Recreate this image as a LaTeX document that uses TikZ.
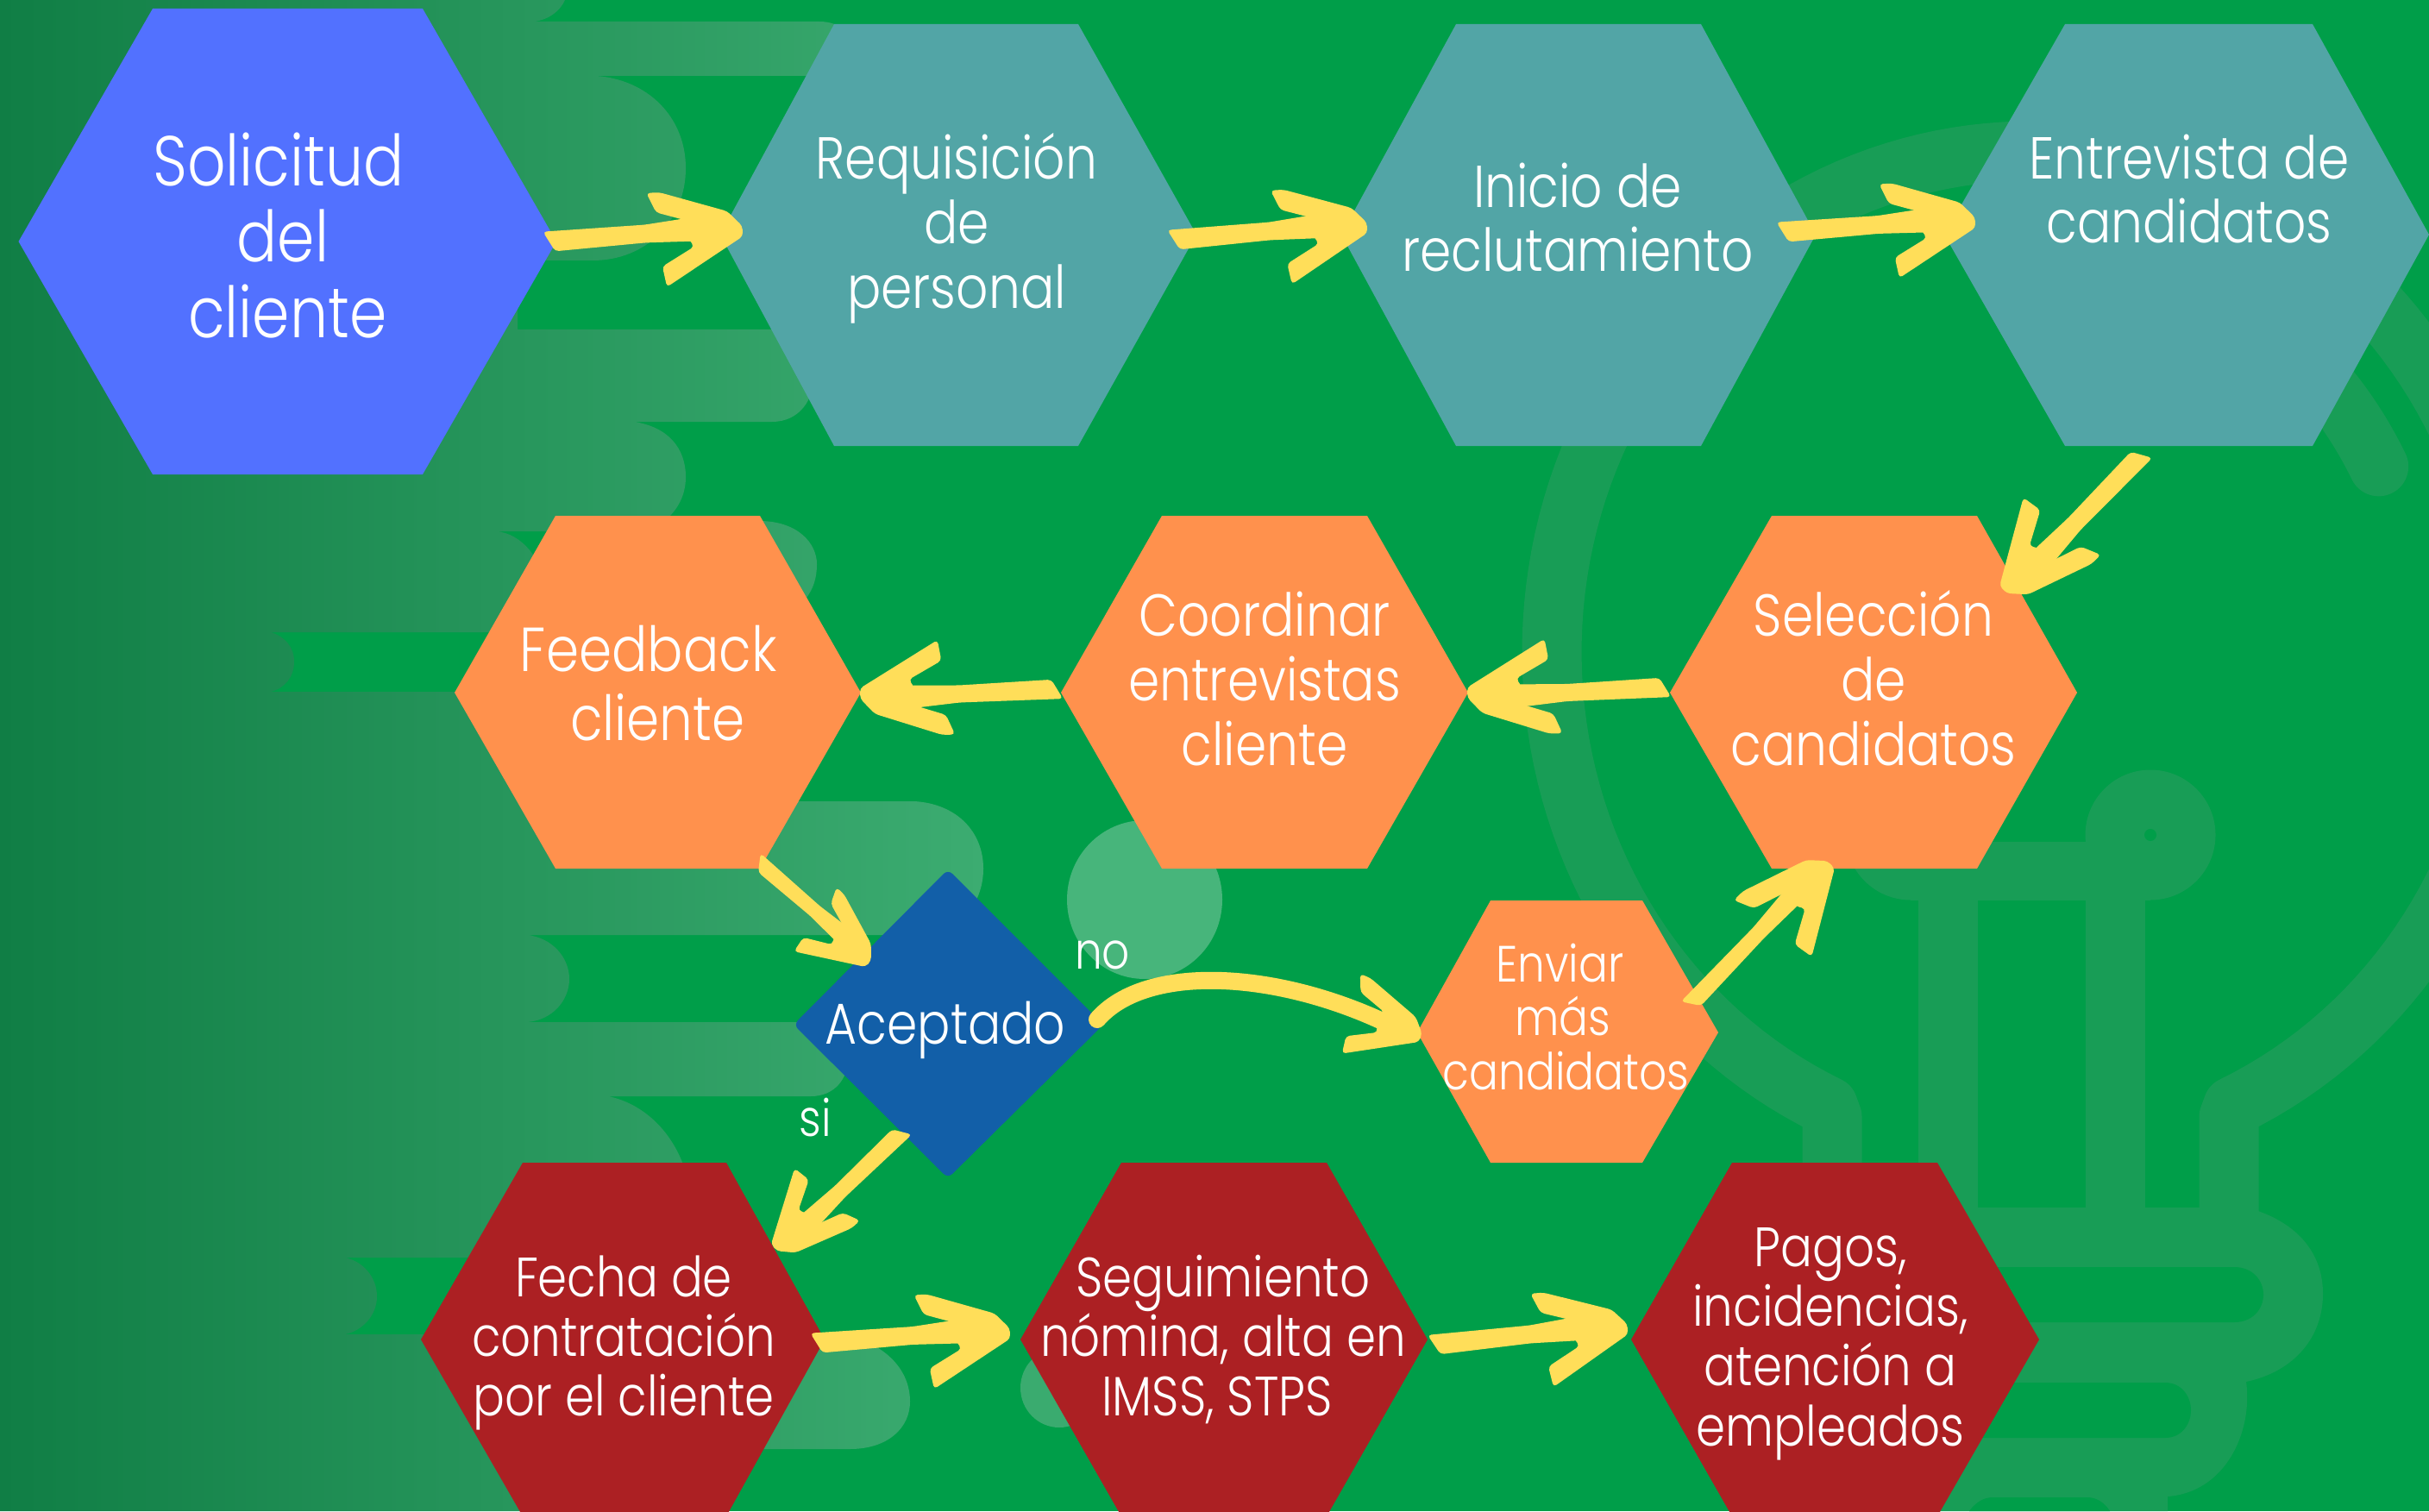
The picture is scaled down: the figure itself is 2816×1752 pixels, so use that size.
\documentclass[tikz,border=0pt]{standalone}
\usepackage{fontspec}
\setmainfont{Poppins}[UprightFont=* Light,FakeStretch=0.85]
\usetikzlibrary{calc}
\definecolor{bgg}{HTML}{009E49}
\definecolor{bulbc}{HTML}{189D56}
\definecolor{barl}{HTML}{107E45}
\definecolor{barr}{HTML}{3CAC71}
\definecolor{blobA}{HTML}{47B57B}
\definecolor{blobB}{HTML}{3AAB6F}
\definecolor{hblue}{HTML}{5271FF}
\definecolor{hteal}{HTML}{52A5A6}
\definecolor{horange}{HTML}{FF914D}
\definecolor{hred}{HTML}{AC2023}
\definecolor{dblue}{HTML}{125FA8}
\definecolor{yel}{HTML}{FFDE59}
\newcommand\hex[8]{\fill[#1] (#2,#7) -- (#3,#6) -- (#4,#6) -- (#5,#7) -- (#4,#8) -- (#3,#8) -- cycle;}
\newcommand\hframe[2]{%
 \pgfpointdiff{\pgfpointanchor{#1}{center}}{\pgfpointanchor{#2}{center}}%
 \pgfgetlastxy\hdx\hdy
 \pgfmathsetmacro\hLen{veclen(\hdx,\hdy)}%
 \pgfmathsetmacro\hA{\hdx/\hLen}%
 \pgfmathsetmacro\hB{\hdy/\hLen}%
 \pgfmathsetmacro\hL{\hLen/0.28453}%
}
\newcommand\hhead[3]{% from, tip, head scale
 \hframe{#1}{#2}%
 \begin{scope}[cm={\hA,\hB,-\hB,\hA,(#1)}]
 \fill[yel,rounded corners=1.2pt]
  ({\hL-58*#3},{-14*#3}) -- ({\hL-98*#3},{-27*#3}) -- ({\hL-108*#3},{-50*#3}) --
  ({\hL-93*#3},{-50*#3}) -- ({\hL-15.6*#3},{-24*#3}) -- ({\hL+1*#3},{-6*#3}) --
  ({\hL+1*#3},{6*#3}) -- ({\hL-90*#3},{60*#3}) -- ({\hL-94*#3},{36*#3}) --
  ({\hL-56*#3},{15*#3}) -- ({\hL-62*#3},{5.4*#3}) -- cycle;
 \end{scope}}
\newcommand\harrow[4]{% start, tip, head scale, shaft scale
 \hhead{#1}{#2}{#3}%
 \begin{scope}[cm={\hA,\hB,-\hB,\hA,(#1)}]
 \fill[yel,rounded corners=1.2pt]
  (-6,{-9*#4}) -- ({\hL/2},{-8*#4-3}) -- ({\hL-50*#3},{-5.5*#3-11*#4}) --
  ({\hL-50*#3},{-5.5*#3+11*#4}) -- ({\hL/2},{8*#4-3}) -- (7,{9*#4}) -- cycle;
 \end{scope}}
\tikzset{
 lbl/.style={text=white,align=center,inner sep=0pt},
 bigt/.style={lbl,font=\fontsize{23.3}{25}\selectfont},
 midt/.style={lbl,font=\fontsize{19.5}{21.3}\selectfont},
 feedt/.style={lbl,font=\fontsize{20.5}{22.8}\selectfont},
 redt/.style={lbl,font=\fontsize{18.3}{19.7}\selectfont},
 envt/.style={lbl,font=\fontsize{16.8}{17.9}\selectfont},
 bulbline/.style={bulbc,line width=0.69cm,line join=round},
}
\begin{document}
\begin{tikzpicture}[x=0.01cm,y=-0.01cm]
\useasboundingbox (0,0) rectangle (2816,1752);
\clip (0,0) rectangle (2816,1752);
\fill[bgg] (0,0) rectangle (2816,1752);
% bulb
\draw[bulbline] (2124,1410) -- (2124,1295) -- plot[domain=115:425,samples=160] ({2354+555*cos(\x)},{756+581*sin(\x)}) -- (2584,1295) -- (2584,1410);
\draw[bulbline,line cap=round] plot[domain=290:333,samples=30] ({2354+453*cos(\x)},{756+474*sin(\x)});
\draw[bulbline] (2258,1000) -- (2258,1410);
\draw[bulbline] (2452,1000) -- (2452,1410);
\fill[bulbc] (2215,968) ellipse (75.5 and 75.5);
\fill[bulbc] (2493,968) ellipse (75.5 and 75.5);
\fill[bgg] (2493,968) ellipse (7 and 7);
\fill[bulbc] (2215,976) rectangle (2493,1044);
\fill[bulbc] (2100,1400) -- (2605,1400) .. controls (2660,1415) and (2693,1450) .. (2693,1500) .. controls (2693,1550) and (2660,1590) .. (2604,1602)
  .. controls (2612,1660) and (2580,1730) .. (2513,1735) -- (2513,1752) -- (2100,1752) -- cycle;
\fill[bgg] (2100,1469) -- (2590,1469) .. controls (2612,1469) and (2624,1485) .. (2624,1501) .. controls (2624,1517) and (2612,1533) .. (2590,1533) -- (2100,1533) -- cycle;
\fill[bgg] (2100,1603) -- (2510,1603) .. controls (2530,1603) and (2540,1620) .. (2540,1635) .. controls (2540,1650) and (2530,1667) .. (2510,1667) -- (2100,1667) -- cycle;
\fill[bgg] (2283,1752) .. controls (2290,1742) and (2300,1736) .. (2310,1736) -- (2420,1736) .. controls (2430,1736) and (2440,1742) .. (2446,1752) -- cycle;
% left gradient band
\shade[left color=barl,right color=barr]
 (0,0) -- (655,0) .. controls (650,12) and (635,25) .. (615,25) -- (950,25) .. controls (1000,25) and (1000,88) .. (950,88)
 -- (691,88) .. controls (750,92) and (795,135) .. (795,195) .. controls (795,255) and (750,302) .. (687,302)
 -- (600,302) -- (600,382) -- (895,382) .. controls (960,382) and (960,489) .. (895,489)
 -- (735,489) .. controls (775,495) and (795,520) .. (795,553) .. controls (795,575) and (785,590) .. (775,600)
 -- (740,616) -- (575,616) .. controls (605,618) and (630,650) .. (630,680) .. controls (630,710) and (600,733) .. (560,733)
 -- (314,733) .. controls (330,738) and (341,750) .. (341,767) .. controls (341,785) and (330,798) .. (314,802)
 -- (700,802) -- (700,929) -- (1060,929) .. controls (1110,932) and (1140,965) .. (1140,1007) .. controls (1140,1050) and (1110,1084) .. (1060,1084)
 -- (611,1084) .. controls (640,1087) and (660,1110) .. (660,1135) .. controls (660,1160) and (640,1183) .. (611,1185)
 -- (940,1185) .. controls (968,1186) and (983,1205) .. (983,1228) .. controls (983,1250) and (968,1271) .. (940,1271)
 -- (705,1271) .. controls (750,1280) and (790,1320) .. (800,1380) -- (800,1458)
 -- (400,1458) .. controls (420,1462) and (437,1480) .. (437,1503) .. controls (437,1525) and (420,1543) .. (400,1547)
 -- (980,1547) .. controls (1030,1560) and (1055,1590) .. (1055,1625) .. controls (1055,1655) and (1030,1680) .. (985,1680)
 -- (700,1680) -- (700,1752) -- (0,1752) -- cycle
 (947,654) .. controls (947,630) and (925,604) .. (880,604) -- (860,704) -- (925,704) .. controls (940,690) and (947,675) .. (947,654) -- cycle;
\fill[blobA] (1327,1043) ellipse (90 and 92);
\fill[blobB] (1228,1609) ellipse (45 and 46);
% hexagons
\hex{hblue}{21.5}{177}{490}{645}{10}{280}{550}
\hex{hteal}{835}{967}{1250}{1387}{28}{272}{517}
\hex{hteal}{1555}{1688}{1972}{2105}{28}{272}{517}
\hex{hteal}{2254}{2394}{2681}{2816}{28}{272}{517}
\hex{horange}{527}{644}{881}{998}{598}{803}{1007}
\hex{horange}{1230}{1347}{1585}{1702}{598}{803}{1007}
\hex{horange}{1936}{2054}{2292}{2408}{598}{803}{1007}
\hex{horange}{1643}{1728}{1904}{1992}{1044}{1197}{1348}
\hex{hred}{488}{606}{842}{956}{1348}{1553}{1758}
\hex{hred}{1183}{1300}{1538}{1655}{1348}{1553}{1758}
\hex{hred}{1891}{2008}{2246}{2364}{1348}{1553}{1758}
\fill[dblue,rounded corners=2pt] (1099,1008) -- (1279,1188) -- (1099,1366) -- (920,1188) -- cycle;
% labels
\node[bigt] (solicitud) at (328,273) {Solicitud\hspace*{3pt}\\del\\\hspace*{3pt}cliente};
\node[midt] (requisicion) at (1109,265) {Requisición\\de\hspace*{4pt}\\personal};
\node[midt] (inicio) at (1829,252) {Inicio de\\reclutamiento};
\node[midt] (entrevista) at (2538,219) {Entrevista de\\candidatos};
\node[feedt] (feedback) at (757,792) {Feedback\hspace*{3pt}\\\hspace*{3pt}cliente};
\node[midt] (coordinar) at (1466,787) {Coordinar\\entrevistas\\cliente};
\node[midt] (seleccion) at (2172,786) {Selección\\de\\candidatos};
\node[envt] (enviar) at (1812,1179) {Enviar\hspace*{2pt}\\más\hspace*{2pt}\\\hspace*{2pt}candidatos};
\node[midt,font=\fontsize{19}{19}\selectfont] (aceptado) at (1096,1194) {Aceptado};
\node[envt] (nolbl) at (1278,1107) {no};
\node[envt] (silbl) at (945,1296) {si};
\node[redt] (fecha) at (723,1557) {Fecha de\\contratación\\por el cliente};
\node[redt] (seguim) at (1418,1553) {Seguimiento\\nómina, alta en\\IMSS, STPS\hspace*{4pt}};
\node[redt] (pagos) at (2122,1558) {Pagos,\\incidencias,\\atención a\\empleados};
% connector ends
\coordinate (a1s) at (636,280);  \coordinate (a1e) at (860,268);
\coordinate (a2s) at (1360,278); \coordinate (a2e) at (1584,264);
\coordinate (a3s) at (2066,269); \coordinate (a3e) at (2289,258);
\coordinate (a4s) at (2483,527); \coordinate (a4e) at (2323,683);
\coordinate (a5s) at (1931,797); \coordinate (a5e) at (1702,803);
\coordinate (a6s) at (1226,799); \coordinate (a6e) at (998,804);
\coordinate (a7s) at (880,1000); \coordinate (a7e) at (1006,1117);
\coordinate (a8s) at (1046,1312); \coordinate (a8e) at (898,1446);
\coordinate (a9s) at (946,1557); \coordinate (a9e) at (1170,1546);
\coordinate (a10s) at (1662,1559); \coordinate (a10e) at (1886,1541);
\coordinate (a11s) at (1960,1164); \coordinate (a11e) at (2122,1003);
\coordinate (a12s) at (1272,1182); \coordinate (a12c) at (1540,1160); \coordinate (a12e) at (1646,1203);
\harrow{a1s}{a1e}{1}{1.3}
\harrow{a2s}{a2e}{1}{1.3}
\harrow{a3s}{a3e}{1}{1.3}
\harrow{a4s}{a4e}{1}{1.25}
\harrow{a5s}{a5e}{1}{1.25}
\harrow{a6s}{a6e}{1}{1.25}
\harrow{a7s}{a7e}{.8}{1}
\harrow{a8s}{a8e}{.87}{1.1}
\harrow{a9s}{a9e}{1}{1.3}
\harrow{a10s}{a10e}{1}{1.3}
\harrow{a11s}{a11e}{1}{1.1}
\draw[yel,line width=0.2cm,line cap=round] (a12s) .. controls (1330,1115) and (1490,1125) .. (1625,1195);
\hhead{a12c}{a12e}{.85}
\end{tikzpicture}
\end{document}
